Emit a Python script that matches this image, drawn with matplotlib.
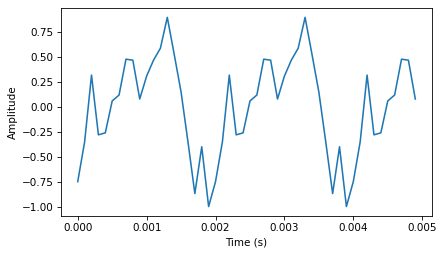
import matplotlib
matplotlib.use('Agg')
import matplotlib.pyplot as plt

#   sample times (s)
time = [0.0000, 0.0001, 0.0002, 0.0003, 0.0004, 0.0005, 0.0006, 0.0007, 0.0008, 0.0009,
        0.0010, 0.0011, 0.0012, 0.0013, 0.0014, 0.0015, 0.0016, 0.0017, 0.0018, 0.0019,
        0.0020, 0.0021, 0.0022, 0.0023, 0.0024, 0.0025, 0.0026, 0.0027, 0.0028, 0.0029,
        0.0030, 0.0031, 0.0032, 0.0033, 0.0034, 0.0035, 0.0036, 0.0037, 0.0038, 0.0039,
        0.0040, 0.0041, 0.0042, 0.0043, 0.0044, 0.0045, 0.0046, 0.0047, 0.0048, 0.0049]

#   signal amplitude
amplitude = [-0.75, -0.35, 0.32, -0.28, -0.26, 0.06, 0.12, 0.48, 0.47, 0.08,
             0.31, 0.47, 0.59, 0.90, 0.53, 0.15, -0.35, -0.87, -0.40, -1.00,
             -0.75, -0.35, 0.32, -0.28, -0.26, 0.06, 0.12, 0.48, 0.47, 0.08,
             0.31, 0.47, 0.59, 0.90, 0.53, 0.15, -0.35, -0.87, -0.40, -1.00,
             -0.75, -0.35, 0.32, -0.28, -0.26, 0.06, 0.12, 0.48, 0.47, 0.08]

#   figure drawn at 75 dpi so the default sizes shrink like the reference
fig = plt.figure(figsize=(5.88, 3.40), dpi=75)
ax = fig.add_axes([0.138, 0.153, 0.842, 0.816])
ax.plot(time, amplitude, color='#1f77b4')
ax.set_xlabel('Time (s)')
ax.set_ylabel('Amplitude')

fig.savefig('out.png', dpi=75)
